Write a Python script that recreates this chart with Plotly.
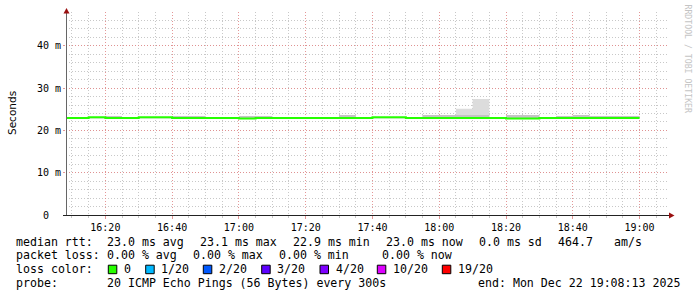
import plotly.graph_objects as go

# ---------------- data ----------------
DAY = "2025-12-22 "
bin_starts = ["16:05", "16:10", "16:15", "16:20", "16:25", "16:30", "16:35", "16:40", "16:45",
              "16:50", "16:55", "17:00", "17:05", "17:10", "17:15", "17:20", "17:25", "17:30",
              "17:35", "17:40", "17:45", "17:50", "17:55", "18:00", "18:05", "18:10", "18:15",
              "18:20", "18:25", "18:30", "18:35", "18:40", "18:45", "18:50", "18:55"]
last_bin_end = "19:00"
# median rtt per 5-minute bin (ms)
median_ms = [22.96, 22.96, 23.12, 22.96, 22.96, 23.12, 23.12, 22.96, 22.96,
             22.96, 22.96, 22.80, 22.96, 22.96, 22.96, 22.96, 22.96, 22.96,
             22.96, 23.12, 23.12, 22.96, 22.96, 22.96, 22.96, 22.96, 22.96,
             22.80, 22.80, 22.96, 22.96, 22.96, 22.96, 22.96, 22.96]
# smoke (ping spread) per bin, ms
smoke_low_ms = [22.9] * 35
smoke_core_ms = [23.0, 23.0, 23.0, 23.43, 23.0, 23.0, 23.0, 23.43, 23.43,
                 23.0, 23.0, 23.43, 23.43, 23.0, 23.0, 23.0, 23.0, 23.67,
                 23.0, 23.0, 23.0, 23.0, 23.67, 23.67, 23.67, 23.67, 23.0,
                 23.67, 23.67, 23.0, 23.43, 23.67, 23.43, 23.43, 23.43]
smoke_top_ms = [23.0, 23.0, 23.0, 23.43, 23.0, 23.0, 23.0, 23.43, 23.43,
                23.0, 23.0, 23.43, 23.43, 23.0, 23.0, 23.0, 23.0, 23.67,
                23.0, 23.0, 23.0, 23.0, 23.67, 23.67, 25.1, 27.45, 23.0,
                23.67, 23.67, 23.0, 23.43, 23.67, 23.43, 23.43, 23.43]

x_range = ["16:08:13", "19:08:13"]
y_tick_vals = [0, 10, 20, 30, 40]
y_tick_text = ["0\u00a0\u00a0", "10 m", "20 m", "30 m", "40 m"]
y_title = "Seconds"
watermark = "RRDTOOL / TOBI OETIKER"

line1 = ["median rtt:", "23.0 ms avg", "23.1 ms max", "22.9 ms min", "23.0 ms now", "0.0 ms sd", "464.7", "am/s"]
line2 = ["packet loss:", "0.00 % avg", "0.00 % max", "0.00 % min", "0.00 % now"]
line3_label = "loss color:"
loss_labels = ["0", "1/20", "2/20", "3/20", "4/20", "10/20", "19/20"]
loss_colors = ["#26ff00", "#00b8ff", "#0059ff", "#5e00ff", "#7e00ff", "#dd00ff", "#ff0000"]
line4 = ["probe:", "20 ICMP Echo Pings (56 Bytes) every 300s", "end: Mon Dec 22 19:08:13 2025"]

# ---------------- layout helpers ----------------
W, H = 697, 297
L, R, T, B = 66, 30, 12, 82
PW = W - L - R
PH = H - T - B


def px(xp):
    return (xp - L) / PW


def py(yp):
    return (H - B - yp) / PH


xs = [DAY + t for t in bin_starts] + [DAY + last_bin_end]


def ext(v):
    return list(v) + [v[-1]]


fig = go.Figure()
fig.add_trace(go.Scatter(x=xs, y=ext(smoke_low_ms), mode="lines", line=dict(width=0, shape="hv"),
                         hoverinfo="skip"))
fig.add_trace(go.Scatter(x=xs, y=ext(smoke_top_ms), mode="lines", line=dict(width=0, shape="hv"),
                         fill="tonexty", fillcolor="#dcdcdc", hoverinfo="skip"))
fig.add_trace(go.Scatter(x=xs, y=ext(smoke_low_ms), mode="lines", line=dict(width=0, shape="hv"),
                         hoverinfo="skip"))
fig.add_trace(go.Scatter(x=xs, y=ext(smoke_core_ms), mode="lines", line=dict(width=0, shape="hv"),
                         fill="tonexty", fillcolor="#c4c4c4", hoverinfo="skip"))
fig.add_trace(go.Scatter(x=xs, y=ext(median_ms), mode="lines",
                         line=dict(width=2, shape="hv", color="#26ff00")))

MAJ = "rgba(225,140,140,0.9)"
MIN = "#c8c8c8"
DOT = "1px,2px"
tick_font = dict(family="DejaVu Sans Mono", size=10, color="#000")

fig.update_xaxes(type="date", range=[DAY + x_range[0], DAY + x_range[1]],
                 tick0=DAY + "16:20:00", dtick=20 * 60 * 1000, tickformat="%H:%M",
                 showgrid=True, gridcolor=MAJ, griddash=DOT, gridwidth=1,
                 ticks="outside", ticklen=3, tickcolor=MAJ, tickfont=tick_font,
                 showline=False, zeroline=False, fixedrange=True,
                 minor=dict(dtick=5 * 60 * 1000, tick0=DAY + "16:20:00", showgrid=True,
                            gridcolor=MIN, griddash=DOT, gridwidth=1,
                            ticks="outside", ticklen=2, tickcolor=MIN))
fig.update_yaxes(range=[0, 48], tickvals=y_tick_vals, ticktext=y_tick_text,
                 showgrid=True, gridcolor=MAJ, griddash=DOT, gridwidth=1,
                 ticks="outside", ticklen=2, tickcolor=MAJ, tickfont=tick_font,
                 showline=False, zeroline=False, fixedrange=True,
                 minor=dict(dtick=2, showgrid=True, gridcolor=MIN, griddash=DOT, gridwidth=1))

shapes = [
    # axes
    dict(type="line", xref="paper", yref="paper", x0=px(66.5), x1=px(66.5), y0=py(215.5), y1=py(10),
         line=dict(color="#666", width=1)),
    dict(type="line", xref="paper", yref="paper", x0=px(63), x1=px(671), y0=py(215.5), y1=py(215.5),
         line=dict(color="#222", width=1)),
    # arrows
    dict(type="path", xref="paper", yref="paper",
         path=f"M {px(66.5)},{py(8)} L {px(63.5)},{py(13.5)} L {px(69.5)},{py(13.5)} Z",
         fillcolor="#9a1010", line=dict(width=0)),
    dict(type="path", xref="paper", yref="paper",
         path=f"M {px(674.5)},{py(215.5)} L {px(669)},{py(212.5)} L {px(669)},{py(218.5)} Z",
         fillcolor="#9a1010", line=dict(width=0)),
]

ann = []
mono = dict(family="DejaVu Sans Mono", size=11.6, color="#000")


def txt(s, xp, yp, font=mono, **kw):
    ann.append(dict(text=s.replace(" ", "\u00a0"), x=px(xp), y=py(yp), xref="paper", yref="paper",
                    xanchor="left", yanchor="middle", showarrow=False, font=font,
                    borderpad=0, borderwidth=0, **kw))


line1_x = [16, 107.3, 200, 293.3, 386, 479.3, 558.3, 614]
line2_x = [16, 107.3, 193.3, 279.3, 381.7]
box_x = [108.3, 145.7, 203.3, 261.7, 320, 377.3, 442.3]
line4_x = [16, 107.3, 478.3]
rows_y = [241.5, 255.2, 269.2, 283]

for s, xp in zip(line1, line1_x):
    txt(s, xp, rows_y[0])
for s, xp in zip(line2, line2_x):
    txt(s, xp, rows_y[1])
txt(line3_label, 16, rows_y[2])
for lab, col, xp in zip(loss_labels, loss_colors, box_x):
    shapes.append(dict(type="rect", xref="paper", yref="paper", x0=px(xp), x1=px(xp + 8.5),
                       y0=py(rows_y[2] + 4.5), y1=py(rows_y[2] - 4), fillcolor=col,
                       line=dict(color="#000", width=1)))
    txt(lab, xp + 15.5, rows_y[2])
for s, xp in zip(line4, line4_x):
    txt(s, xp, rows_y[3])

ann.append(dict(text=y_title, x=px(11.5), y=py(113.5), xref="paper", yref="paper",
                xanchor="center", yanchor="middle", textangle=-90, showarrow=False,
                font=dict(family="DejaVu Sans", size=10.5, color="#000")))
ann.append(dict(text=watermark.replace(" ", "\u00a0"), x=px(687.5), y=py(59), xref="paper", yref="paper",
                xanchor="center", yanchor="middle", textangle=90, showarrow=False,
                font=dict(family="DejaVu Sans Mono", size=8.2, color="#c4c4c4")))

fig.update_layout(width=W, height=H, margin=dict(l=L, r=R, t=T, b=B),
                  plot_bgcolor="#fff", paper_bgcolor="#fff", showlegend=False,
                  shapes=shapes, annotations=ann)

fig.write_html("out.html")
